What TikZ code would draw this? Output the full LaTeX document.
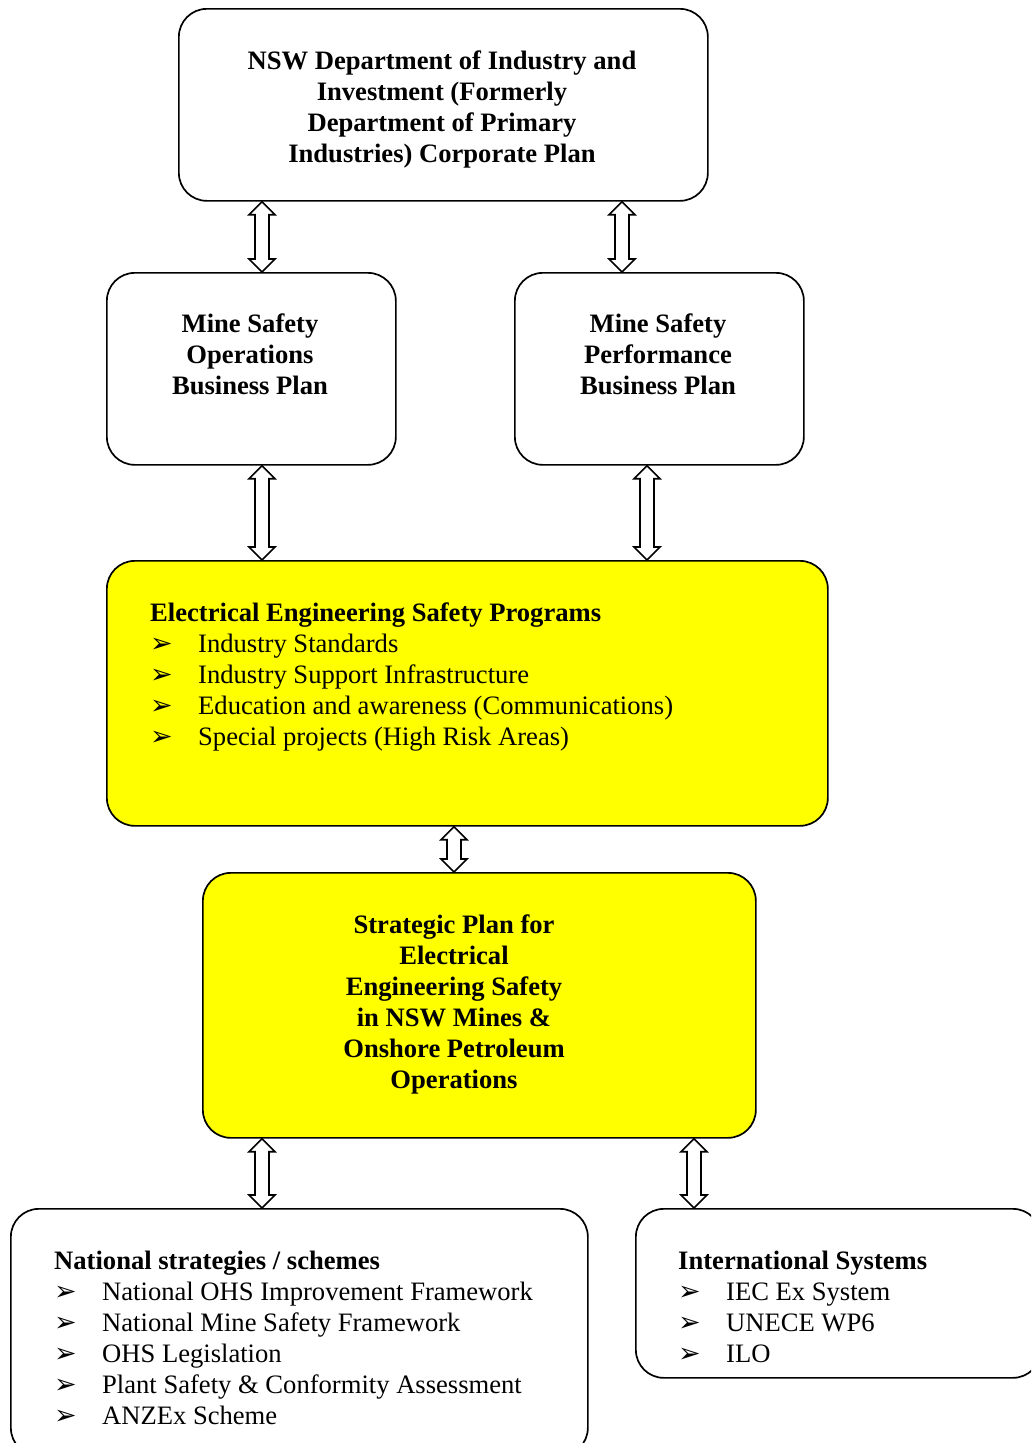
\documentclass[tikz,border=0pt]{standalone}
\usepackage{fontspec}
\setmainfont{Liberation Serif}
\newfontfamily\symfont{DejaVu Sans}
\usetikzlibrary{calc}
\definecolor{yel}{RGB}{255,255,0}
\tikzset{
  box/.style={draw, line width=1.7pt, rounded corners=28pt, inner sep=0pt},
  ybox/.style={box, fill=yel},
  txt/.style={inner sep=0pt, font=\fontsize{26.6}{31}\selectfont},
  btxt/.style={txt, font=\fontsize{26.6}{31}\selectfont\bfseries, align=center, anchor=north},
  ltxt/.style={txt, align=left, anchor=north west},
  dblarr/.style={draw, line width=1.6pt, fill=white, line join=miter},
}
\newcommand\bul{\makebox[48pt][l]{{\symfont\fontsize{27}{27}\selectfont ➢}}}
\newcommand\dblarrow[3]{%
  \draw[dblarr] let \p1=(#2.south), \p2=(#3.north) in
    ({#1pt},\y1) -- ({#1pt+13pt},{\y1-13pt}) -- ({#1pt+7pt},{\y1-13pt})
    -- ({#1pt+7pt},{\y2+13pt}) -- ({#1pt+13pt},{\y2+13pt}) -- ({#1pt},\y2)
    -- ({#1pt-13pt},{\y2+13pt}) -- ({#1pt-7pt},{\y2+13pt})
    -- ({#1pt-7pt},{\y1-13pt}) -- ({#1pt-13pt},{\y1-13pt}) -- cycle;}
\begin{document}
\begin{tikzpicture}[x=1pt,y=1pt]
\useasboundingbox (0,0) rectangle (1031,-1443);
\clip (0,0) rectangle (1031,-1443);
% boxes
\node[box, anchor=north west, minimum width=529pt, minimum height=192pt] (top) at (178,-8) {};
\node[box, anchor=north west, minimum width=289pt, minimum height=192pt] (midL) at (106,-272) {};
\node[box, anchor=north west, minimum width=289pt, minimum height=192pt] (midR) at (514,-272) {};
\node[ybox, anchor=north west, minimum width=721pt, minimum height=265pt] (Y1) at (106,-560) {};
\node[ybox, anchor=north west, minimum width=553pt, minimum height=265pt] (Y2) at (202,-872) {};
\node[box, anchor=north west, minimum width=577pt, minimum height=247pt] (BL) at (10,-1208) {};
\node[box, anchor=north west, minimum width=405pt, minimum height=169pt] (BR) at (635,-1208) {};
% texts
\node[btxt] (topT) at (442,-51) {NSW Department of Industry and\\Investment (Formerly\\Department of Primary\\Industries) Corporate Plan};
\node[btxt] (midLT) at (250,-314) {Mine Safety\\Operations\\Business Plan};
\node[btxt] (midRT) at (658,-314) {Mine Safety\\Performance\\Business Plan};
\node[ltxt] (Y1T) at (150,-603) {\textbf{Electrical Engineering Safety Programs}\\
  \bul Industry Standards\\
  \bul Industry Support Infrastructure\\
  \bul Education and awareness (Communications)\\
  \bul Special projects (High Risk Areas)};
\node[btxt] (Y2T) at (454,-915) {Strategic Plan for\\Electrical\\Engineering Safety\\in NSW Mines \&\\Onshore Petroleum\\Operations};
\node[ltxt] (BLT) at (54,-1251) {\textbf{National strategies / schemes}\\
  \bul National OHS Improvement Framework\\
  \bul National Mine Safety Framework\\
  \bul OHS Legislation\\
  \bul Plant Safety \& Conformity Assessment\\
  \bul ANZEx Scheme};
\node[ltxt] (BRT) at (678,-1251) {\textbf{International Systems}\\
  \bul IEC Ex System\\
  \bul UNECE WP6\\
  \bul ILO};
% connectors
\dblarrow{262}{top}{midL}
\dblarrow{622}{top}{midR}
\dblarrow{262}{midL}{Y1}
\dblarrow{647}{midR}{Y1}
\dblarrow{454}{Y1}{Y2}
\dblarrow{262}{Y2}{BL}
\dblarrow{694}{Y2}{BR}
\end{tikzpicture}
\end{document}
